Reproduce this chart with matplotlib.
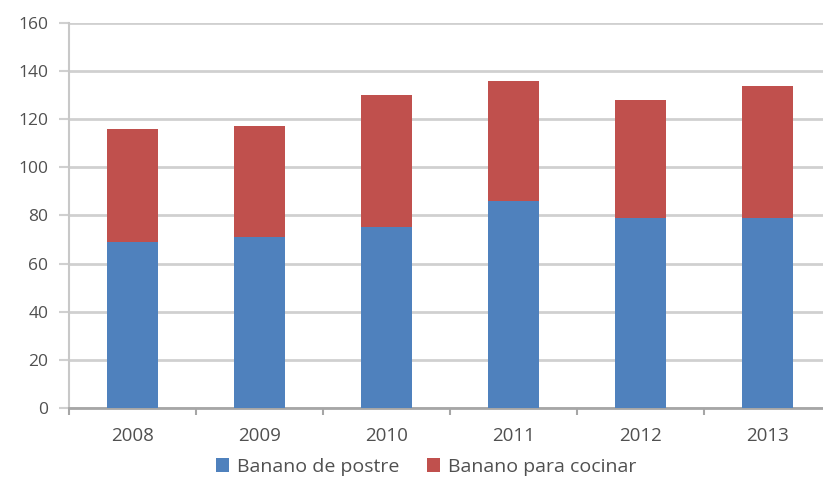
import matplotlib.pyplot as plt
import numpy as np

# producción de banano por año (miles de t)
years = ["2008", "2009", "2010", "2011", "2012", "2013"]
postre = [69, 71, 75, 86, 79, 79]
cocinar = [47, 46, 55, 50, 49, 55]

blue = "#4F81BD"
red = "#C0504D"
text_col = "#505050"
grid_col = "#D0D0D0"

plt.rcParams["font.family"] = ["Open Sans", "DejaVu Sans"]

fig = plt.figure(figsize=(8.23, 4.88), dpi=100)
ax = fig.add_axes([69 / 823, 0.164, (831 - 69) / 823, 0.789])

x = np.arange(len(years))
b1 = ax.bar(x, postre, width=0.4, color=blue, label="Banano de postre", zorder=3)
b2 = ax.bar(x, cocinar, width=0.4, bottom=postre, color=red,
            label="Banano para cocinar", zorder=3)

ax.set_xlim(-0.5, len(years) - 0.5)
ax.set_ylim(0, 160)
ax.set_yticks(range(0, 161, 20))
ax.set_xticks(x)
ax.set_xticklabels(years)
# ticks del eje x entre categorías
ax.set_xticks(np.arange(-0.5, len(years), 1.0), minor=True)

ax.yaxis.grid(True, color=grid_col, linewidth=2, zorder=0)
ax.set_axisbelow(True)

for s in ["top", "right"]:
    ax.spines[s].set_visible(False)
ax.spines["left"].set_color("#C8C8C8")
ax.spines["left"].set_linewidth(1.5)
ax.spines["bottom"].set_color("#A6A6A6")
ax.spines["bottom"].set_linewidth(2)

ax.tick_params(axis="y", length=7, width=1.5, color=grid_col,
               labelsize=12.5, labelcolor=text_col, pad=8)
ax.tick_params(axis="x", which="major", length=0, labelsize=13.5,
               labelcolor=text_col, pad=14)
ax.tick_params(axis="x", which="minor", length=5, width=1.5, color="#A6A6A6")

fig.legend(handles=[b1, b2], loc="center", bbox_to_anchor=(426 / 823, 1 - 467 / 488),
           ncol=2, frameon=False, fontsize=14, labelcolor=text_col,
           handlelength=0.7, handleheight=0.7, handletextpad=0.4,
           columnspacing=1.4)

fig.savefig("out.png", dpi=100)
